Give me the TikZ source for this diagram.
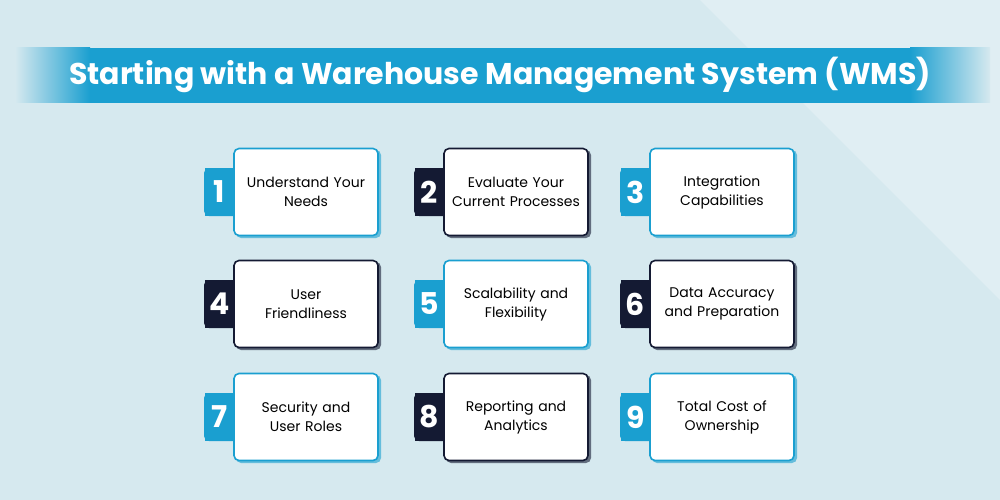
\documentclass[tikz,border=0pt]{standalone}
\usepackage{fontspec}
\setmainfont{Poppins}
\usetikzlibrary{positioning}
\definecolor{bgc}{HTML}{D6E9EF}
\definecolor{blu}{HTML}{1A9FD0}
\definecolor{drk}{HTML}{141A33}
\tikzset{
  card/.style={draw=#1, line width=1.6pt, fill=white, rounded corners=5pt, minimum width=144pt, minimum height=87pt, align=center, font=\fontsize{14}{19}\selectfont, text=black, inner sep=0pt, text width=142pt},
  tab/.style={fill=#1, minimum width=29pt, minimum height=48pt, inner sep=0pt, text=white, font=\fontsize{30}{30}\selectfont\bfseries},
}
\begin{document}
\begin{tikzpicture}[x=1pt,y=-1pt]
\useasboundingbox (0,0) rectangle (1000,500);
\fill[bgc] (0,0) rectangle (1000,500);
\fill[white,opacity=0.25] (700,0) -- (1000,0) -- (1000,300) -- cycle;
% banner
\shade[left color=bgc, right color=blu] (15,48) rectangle (90,103);
\fill[blu] (90,48) rectangle (910,103);
\shade[left color=blu, right color=bgc] (910,48) rectangle (990,103);
\node[text=white, font=\fontsize{30}{30}\selectfont\bfseries] (title) at (500,75) {Starting with a Warehouse Management System (WMS)};
\foreach \n/\c/\x/\y/\t in {
 1/blu/306/192/{Understand Your\\Needs},
 2/drk/516/192/{Evaluate Your\\Current Processes},
 3/blu/722/192/{Integration\\Capabilities},
 4/drk/306/304/{User\\Friendliness},
 5/blu/516/304/{Scalability and\\Flexibility},
 6/drk/722/304/{Data Accuracy\\and Preparation},
 7/blu/306/417/{Security and\\User Roles},
 8/drk/516/417/{Reporting and\\Analytics},
 9/blu/722/417/{Total Cost of\\Ownership}} {
  \fill[\c,rounded corners=5pt] (\x-72-30,\y-24) rectangle (\x-60,\y+24);
  \fill[\c!60!bgc,rounded corners=5pt] (\x-70,\y-42) rectangle (\x+75,\y+46);
  \node[card=\c] (c\n) at (\x,\y) {\t};
  \node[tab=\c, anchor=east] (t\n) at ([xshift=1pt]c\n.west) {\n};
}
\end{tikzpicture}
\end{document}
